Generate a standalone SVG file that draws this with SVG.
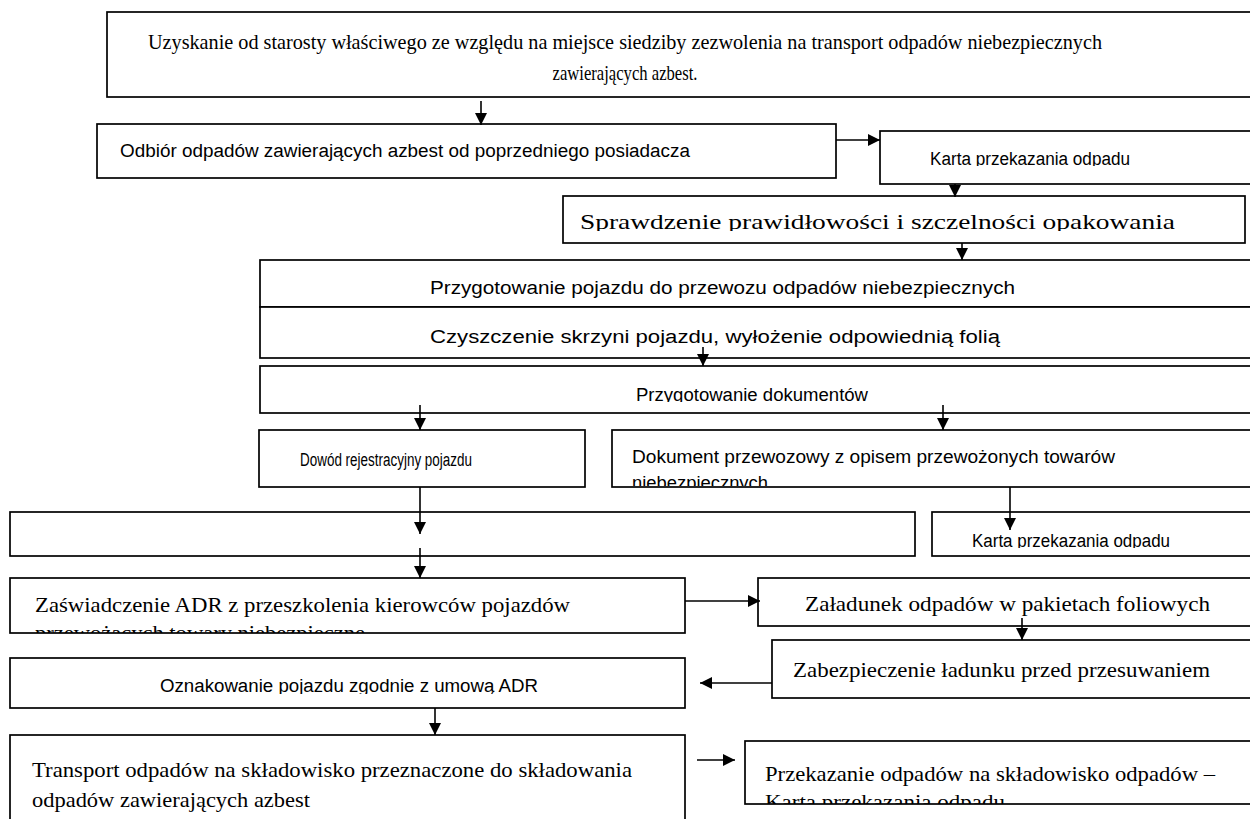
<svg xmlns="http://www.w3.org/2000/svg" width="1250" height="819" viewBox="0 0 1250 819">
<style>
.box{fill:#fff;stroke:#000;stroke-width:1.7}
.ser{font-family:"Liberation Serif","Times New Roman",serif;font-size:21px;fill:#000}
.san{font-family:"Liberation Sans",Arial,sans-serif;font-size:18px;fill:#000}
.con{stroke:#000;stroke-width:1.6;fill:none}
</style>
<defs>
<marker id="ah" markerUnits="userSpaceOnUse" markerWidth="14" markerHeight="14" refX="12" refY="6" orient="auto">
<path d="M0,0 L12,6 L0,12 Z" fill="#000"/>
</marker>
<clipPath id="c2"><rect x="880" y="131" width="380" height="35"/></clipPath>
<clipPath id="c4"><rect x="563" y="196" width="682" height="35"/></clipPath>
<clipPath id="c7"><rect x="260" y="366" width="1000" height="36"/></clipPath>
<clipPath id="c9"><rect x="612" y="430" width="640" height="56"/></clipPath>
<clipPath id="c11"><rect x="932" y="512" width="320" height="36"/></clipPath>
<clipPath id="c12"><rect x="10" y="578" width="675" height="55"/></clipPath>
<clipPath id="c15"><rect x="10" y="658" width="675" height="36"/></clipPath>
<clipPath id="c17"><rect x="745" y="741" width="510" height="63"/></clipPath>
</defs>

<g id="n1">
<rect class="box" x="107" y="12" width="1160" height="85"/>
<text class="ser" x="625" y="49" text-anchor="middle" textLength="954" lengthAdjust="spacingAndGlyphs">Uzyskanie od starosty właściwego ze względu na miejsce siedziby zezwolenia na transport odpadów niebezpiecznych</text>
<text class="ser" x="625" y="80" text-anchor="middle" textLength="145" lengthAdjust="spacingAndGlyphs">zawierających azbest.</text>
</g>
<g id="n2">
<rect class="box" x="97" y="124" width="739" height="54"/>
<text class="san" x="120" y="157" textLength="570" lengthAdjust="spacingAndGlyphs">Odbiór odpadów zawierających azbest od poprzedniego posiadacza</text>
</g>
<g id="n3">
<rect class="box" x="880" y="131" width="380" height="53"/>
<g clip-path="url(#c2)"><text class="san" x="930" y="165" textLength="200" lengthAdjust="spacingAndGlyphs">Karta przekazania odpadu</text></g>
</g>
<g id="n4">
<rect class="box" x="563" y="196" width="682" height="47"/>
<g clip-path="url(#c4)"><text class="ser" x="580" y="229" textLength="595" lengthAdjust="spacingAndGlyphs">Sprawdzenie prawidłowości i szczelności opakowania</text></g>
</g>
<g id="n5">
<rect class="box" x="260" y="260" width="1000" height="47"/>
<text class="san" x="430" y="294" textLength="585" lengthAdjust="spacingAndGlyphs">Przygotowanie pojazdu do przewozu odpadów niebezpiecznych</text>
</g>
<g id="n6">
<rect class="box" x="260" y="307" width="1000" height="51"/>
<text class="san" x="430" y="343" textLength="570" lengthAdjust="spacingAndGlyphs">Czyszczenie skrzyni  pojazdu, wyłożenie odpowiednią folią</text>
</g>
<g id="n7">
<rect class="box" x="260" y="366" width="1000" height="47"/>
<g clip-path="url(#c7)"><text class="san" x="636" y="401" textLength="232" lengthAdjust="spacingAndGlyphs">Przygotowanie dokumentów</text></g>
</g>
<g id="n8">
<rect class="box" x="259" y="430" width="326" height="57"/>
<text class="san" x="300" y="466" textLength="172" lengthAdjust="spacingAndGlyphs">Dowód rejestracyjny pojazdu</text>
</g>
<g id="n9">
<rect class="box" x="612" y="430" width="640" height="57"/>
<g clip-path="url(#c9)">
<text class="san" x="632" y="463" textLength="483" lengthAdjust="spacingAndGlyphs">Dokument przewozowy z opisem przewożonych towarów</text>
<text class="san" x="632" y="489" textLength="136" lengthAdjust="spacingAndGlyphs">niebezpiecznych</text>
</g>
</g>
<g id="n10">
<rect class="box" x="10" y="512" width="905" height="44"/>
</g>
<g id="n11">
<rect class="box" x="932" y="512" width="320" height="44"/>
<g clip-path="url(#c11)"><text class="san" x="972" y="547" textLength="198" lengthAdjust="spacingAndGlyphs">Karta przekazania odpadu</text></g>
</g>
<g id="n12">
<rect class="box" x="10" y="578" width="675" height="55"/>
<g clip-path="url(#c12)">
<text class="ser" x="35" y="612" textLength="535" lengthAdjust="spacingAndGlyphs">Zaświadczenie ADR z przeszkolenia kierowców pojazdów</text>
<text class="ser" x="35" y="640" textLength="330" lengthAdjust="spacingAndGlyphs">przewożących towary niebezpieczne</text>
</g>
</g>
<g id="n13">
<rect class="box" x="758" y="578" width="495" height="48"/>
<text class="ser" x="805" y="611" textLength="405" lengthAdjust="spacingAndGlyphs">Załadunek odpadów w pakietach foliowych</text>
</g>
<g id="n14">
<rect class="box" x="772" y="640" width="480" height="58"/>
<text class="ser" x="793" y="677" textLength="417" lengthAdjust="spacingAndGlyphs">Zabezpieczenie ładunku przed przesuwaniem</text>
</g>
<g id="n15">
<rect class="box" x="10" y="658" width="675" height="50"/>
<g clip-path="url(#c15)"><text class="san" x="160" y="692" textLength="378" lengthAdjust="spacingAndGlyphs">Oznakowanie pojazdu zgodnie z umową ADR</text></g>
</g>
<g id="n16">
<rect class="box" x="10" y="735" width="675" height="100"/>
<text class="ser" x="32" y="777" textLength="600" lengthAdjust="spacingAndGlyphs">Transport odpadów na składowisko przeznaczone do składowania</text>
<text class="ser" x="32" y="807" textLength="278" lengthAdjust="spacingAndGlyphs">odpadów zawierających azbest</text>
</g>
<g id="n17">
<rect class="box" x="745" y="741" width="510" height="63"/>
<g clip-path="url(#c17)">
<text class="ser" x="765" y="781" textLength="450" lengthAdjust="spacingAndGlyphs">Przekazanie odpadów na składowisko odpadów –</text>
<text class="ser" x="765" y="809" textLength="240" lengthAdjust="spacingAndGlyphs">Karta  przekazania odpadu</text>
</g>
</g>

<g id="connectors">
<line class="con" x1="481" y1="101" x2="481" y2="125" marker-end="url(#ah)"/>
<line class="con" x1="836" y1="140" x2="880" y2="140" marker-end="url(#ah)"/>
<line class="con" x1="955" y1="184" x2="955" y2="197" marker-end="url(#ah)"/>
<line class="con" x1="962" y1="243" x2="962" y2="260" marker-end="url(#ah)"/>
<line class="con" x1="703" y1="347" x2="703" y2="366" marker-end="url(#ah)"/>
<line class="con" x1="420" y1="405" x2="420" y2="430" marker-end="url(#ah)"/>
<line class="con" x1="943" y1="405" x2="943" y2="430" marker-end="url(#ah)"/>
<line class="con" x1="420" y1="487" x2="420" y2="534" marker-end="url(#ah)"/>
<line class="con" x1="1010" y1="487" x2="1010" y2="530" marker-end="url(#ah)"/>
<line class="con" x1="420" y1="548" x2="420" y2="578" marker-end="url(#ah)"/>
<line class="con" x1="685" y1="601" x2="760" y2="601" marker-end="url(#ah)"/>
<line class="con" x1="1022" y1="618" x2="1022" y2="640" marker-end="url(#ah)"/>
<line class="con" x1="772" y1="683" x2="700" y2="683" marker-end="url(#ah)"/>
<line class="con" x1="435" y1="708" x2="435" y2="735" marker-end="url(#ah)"/>
<line class="con" x1="697" y1="760" x2="735" y2="760" marker-end="url(#ah)"/>
</g>
</svg>
